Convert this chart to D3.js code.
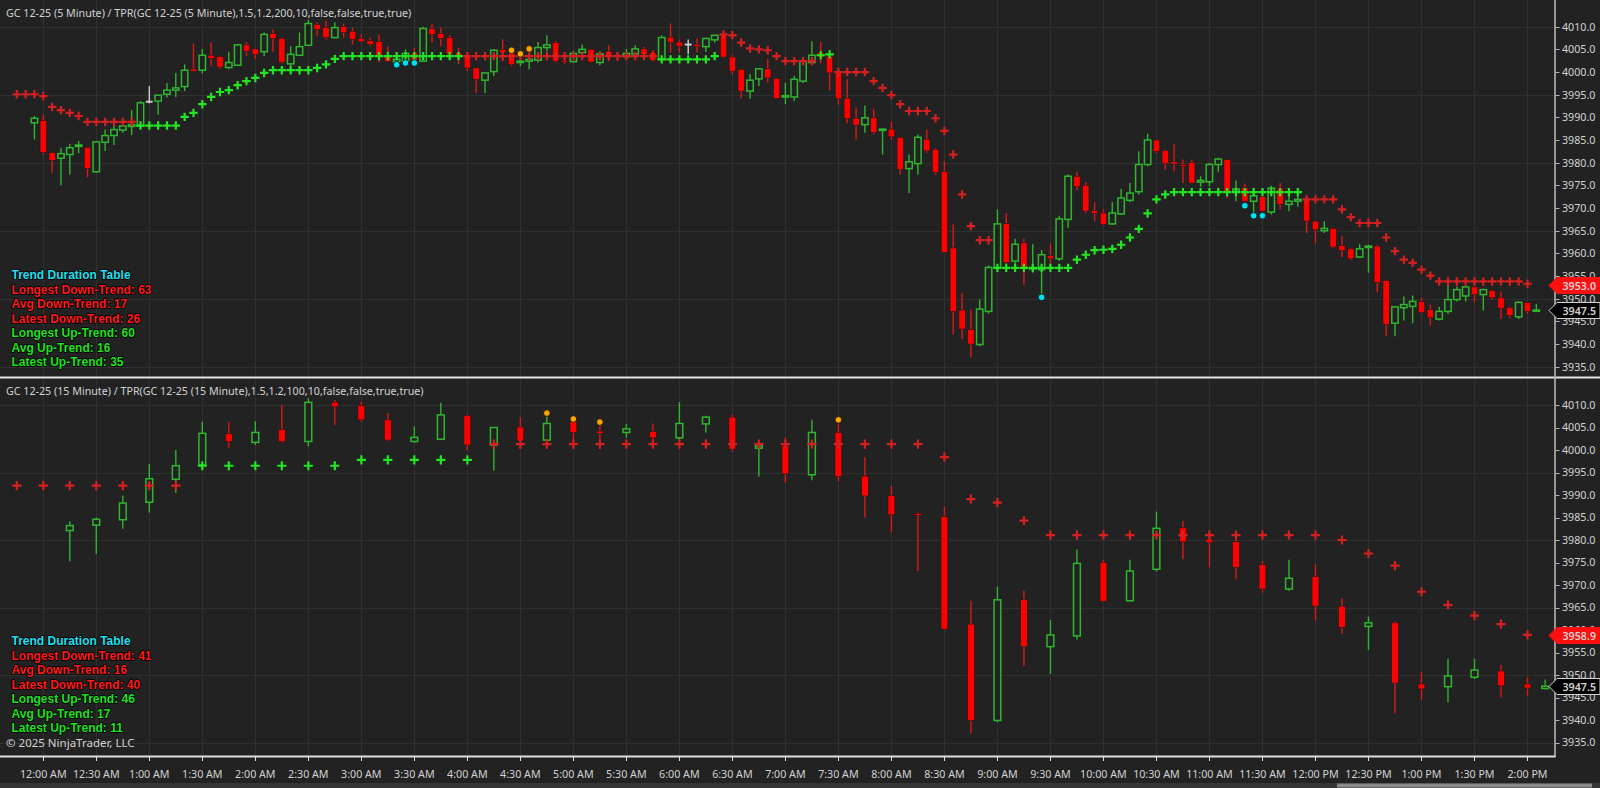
<!DOCTYPE html>
<html lang="en">
<head>
<meta charset="UTF-8">
<title>GC 12-25 TPR</title>
<script src="https://d3js.org/d3.v7.min.js"></script>
<style>
  html, body { margin: 0; padding: 0; background: #222222; overflow: hidden; }
  svg { display: block; }
  .lbl { font-family: "Noto Sans", "Open Sans", sans-serif; font-size: 10.7px; fill: #d2d2d2; }
  .tbl { font-family: "Liberation Sans", Arial, sans-serif; font-size: 12px; font-weight: bold;
         paint-order: stroke; stroke: #000; stroke-width: 1.6px; stroke-linejoin: round; }
</style>
</head>
<body>
<script>
// ---- 5 minute panel: bars [open, high, low, close], first bar 11:55 PM, 5 min apart
var topBars = [
  [3988.8,3990.3,3985.1,3989.8],[3989.3,3990.6,3981.8,3982.3],[3982.2,3982.4,3977.8,3980.5],[3981.0,3983.3,3975.0,3982.0],
  [3981.8,3984.2,3977.4,3983.3],[3983.6,3984.8,3982.1,3983.9],[3983.4,3983.5,3976.8,3978.7],[3978.0,3984.8,3977.8,3984.6],
  [3984.5,3987.3,3982.6,3986.0],[3986.0,3988.2,3983.9,3987.3],[3987.2,3988.8,3986.6,3988.1],[3988.0,3991.6,3986.1,3988.4],
  [3988.1,3993.6,3987.7,3993.2],[3993.6,3996.9,3993.1,3993.6],[3993.6,3995.0,3990.6,3994.9],[3995.1,3997.6,3994.4,3996.0],
  [3996.0,3999.8,3994.5,3996.5],[3996.8,4001.7,3995.8,4000.4],[4000.7,4006.3,4000.0,4000.2],[4000.4,4005.1,3999.7,4003.7],
  [4003.7,4006.5,4001.3,4003.0],[4003.4,4003.4,4000.6,4001.1],[4001.0,4004.5,4000.6,4002.1],[4001.5,4006.1,4001.3,4006.0],
  [4006.0,4006.6,4003.5,4004.6],[4005.1,4005.2,4002.8,4003.9],[4004.5,4008.7,4003.5,4008.3],[4008.5,4009.4,4004.5,4007.4],
  [4007.4,4007.6,4001.9,4002.1],[4001.8,4005.7,4001.3,4003.9],[4003.7,4008.7,4003.5,4005.6],[4005.9,4011.5,4005.8,4010.7],
  [4010.5,4010.9,4007.9,4009.4],[4009.8,4011.3,4007.2,4007.6],[4007.6,4010.9,4007.4,4009.8],[4010.0,4010.7,4007.6,4008.7],
  [4009.0,4009.8,4006.1,4007.2],[4007.4,4008.3,4006.5,4006.7],[4006.9,4007.6,4005.7,4006.1],[4006.7,4008.3,4002.2,4003.5],
  [4003.5,4005.7,4002.2,4002.3],[4002.3,4003.2,4002.1,4002.8],[4002.4,4005.0,4002.1,4004.1],[4004.3,4005.4,4001.7,4002.4],
  [4002.4,4010.0,4002.2,4009.6],[4009.6,4010.7,4006.5,4008.3],[4008.5,4009.8,4005.7,4007.4],[4007.6,4008.1,4003.2,4003.9],
  [4004.3,4005.4,4001.7,4003.5],[4003.9,4003.9,4000.2,4000.9],[4000.9,4000.9,3995.4,3998.4],[3998.2,3999.9,3995.4,3999.8],
  [4000.1,4005.0,3999.1,4004.8],[4005.0,4007.2,4002.4,4004.3],[4004.3,4004.3,4001.3,4001.7],[4002.1,4003.2,4001.3,4002.4],
  [4002.4,4003.2,4000.6,4002.8],[4002.6,4006.6,4002.1,4005.4],[4005.4,4008.1,4004.6,4006.0],[4006.5,4006.8,4002.1,4002.4],
  [4002.6,4004.3,4001.7,4002.2],[4002.3,4004.6,4002.1,4004.1],[4004.3,4006.1,4003.5,4005.0],[4005.0,4005.0,4002.1,4002.2],
  [4002.1,4004.6,4001.5,4004.0],[4004.6,4005.9,4002.4,4003.5],[4003.7,4004.3,4002.4,4003.2],[4003.4,4005.1,4002.8,4004.1],
  [4004.0,4005.9,4003.2,4005.1],[4005.1,4005.5,4002.8,4003.9],[4004.3,4004.8,4002.4,4002.6],[4002.8,4008.1,4002.1,4007.6],
  [4007.7,4010.7,4004.3,4006.5],[4006.6,4007.2,4004.3,4005.7],[4006.2,4007.2,4003.9,4006.2],[4006.1,4007.4,4004.3,4005.6],
  [4005.6,4007.4,4004.4,4007.4],[4007.1,4008.1,4006.5,4008.1],[4008.3,4008.8,4003.2,4003.3],[4003.3,4003.7,3999.5,4000.2],
  [4000.6,4000.6,3994.2,3995.8],[3995.8,3999.5,3994.1,3998.2],[3998.5,4000.9,3996.9,4000.7],[4000.7,4002.9,3997.7,3998.7],
  [3998.6,3998.6,3994.1,3994.2],[3994.5,3997.6,3992.9,3994.8],[3994.5,3999.1,3993.6,3998.4],[3998.0,4002.8,3997.6,4002.4],
  [4002.1,4006.8,4001.7,4003.7],[4004.3,4006.6,4001.9,4003.3],[4003.5,4003.9,3996.0,3999.8],[4000.2,4000.6,3992.8,3994.1],
  [3994.2,3998.4,3988.7,3989.7],[3989.8,3992.2,3985.1,3988.3],[3988.4,3992.6,3986.6,3989.9],[3989.9,3991.9,3986.2,3986.7],
  [3987.2,3987.6,3981.8,3987.4],[3987.4,3989.0,3985.0,3985.7],[3985.6,3985.6,3977.4,3978.5],[3978.7,3981.8,3973.3,3980.2],
  [3979.8,3986.2,3977.4,3985.6],[3985.2,3987.3,3982.2,3982.6],[3982.9,3983.2,3977.4,3977.9],[3978.1,3980.3,3960.2,3960.2],
  [3961.2,3966.4,3942.1,3947.2],[3947.5,3951.3,3941.1,3943.3],[3943.2,3947.6,3937.1,3940.0],[3939.9,3949.8,3939.5,3947.7],
  [3947.2,3957.3,3946.7,3956.9],[3956.8,3969.7,3956.4,3966.5],[3966.6,3968.9,3957.7,3958.0],[3958.3,3963.2,3956.1,3962.0],
  [3962.3,3963.2,3953.1,3956.4],[3956.7,3962.0,3955.7,3956.8],[3956.4,3960.7,3950.4,3959.7],[3959.5,3962.2,3956.1,3958.8],
  [3958.8,3968.3,3958.3,3967.6],[3967.5,3977.4,3965.6,3977.0],[3977.0,3977.9,3973.9,3974.7],[3975.0,3975.7,3968.9,3969.3],
  [3969.4,3971.3,3967.1,3968.8],[3968.9,3969.7,3966.1,3966.4],[3966.5,3971.3,3966.3,3968.9],[3968.7,3974.2,3968.5,3972.2],
  [3971.7,3975.5,3971.3,3973.3],[3973.6,3982.5,3973.0,3979.6],[3979.6,3986.4,3979.2,3985.0],[3985.0,3985.1,3982.0,3982.5],
  [3982.7,3982.9,3978.4,3979.8],[3980.2,3984.2,3978.1,3979.7],[3979.6,3980.7,3975.5,3979.2],[3980.1,3980.7,3975.4,3975.5],
  [3975.7,3977.0,3974.7,3976.1],[3975.8,3980.0,3974.8,3979.6],[3979.6,3981.1,3977.9,3980.8],[3980.7,3980.7,3972.2,3973.7],
  [3973.7,3976.1,3971.5,3974.2],[3974.5,3975.4,3970.4,3971.5],[3971.5,3974.2,3968.2,3972.7],[3972.5,3972.5,3969.1,3969.3],
  [3969.1,3974.9,3968.6,3974.4],[3974.4,3975.5,3969.7,3970.8],[3970.8,3974.1,3969.3,3971.5],[3971.5,3974.1,3970.3,3971.9],
  [3972.0,3972.2,3964.5,3967.1],[3967.1,3967.1,3962.2,3965.2],[3965.0,3967.1,3964.5,3965.5],[3965.5,3965.5,3961.2,3961.4],
  [3961.7,3963.8,3959.2,3960.6],[3961.0,3961.2,3958.5,3958.8],[3959.2,3962.1,3959.0,3961.0],[3961.3,3961.9,3955.7,3961.6],
  [3961.6,3961.9,3951.4,3953.6],[3954.0,3954.2,3941.7,3944.3],[3944.6,3948.3,3941.7,3948.2],[3948.0,3950.5,3945.2,3948.7],
  [3948.3,3950.7,3944.6,3949.4],[3949.4,3950.2,3946.7,3947.0],[3947.6,3948.7,3944.1,3945.8],[3945.5,3948.2,3945.2,3947.2],
  [3947.2,3953.1,3946.7,3949.8],[3949.8,3952.7,3949.4,3952.0],[3950.6,3952.9,3949.4,3952.6],[3952.6,3952.7,3949.2,3950.9],
  [3950.9,3952.2,3947.4,3952.0],[3951.8,3952.0,3949.9,3950.2],[3950.2,3951.6,3945.5,3947.9],[3948.0,3948.3,3945.7,3946.3],
  [3946.0,3949.4,3945.5,3949.2],[3949.2,3949.2,3946.7,3947.2],[3947.3,3948.9,3947.0,3947.5]
];
var topStart = -5, topStep = 5;   // minutes from 12:00 AM

// TPR stop line (crosses), starts two bars before the first candle
var topStop = [
  3995.1,3995.1,3995.1,3994.7,3992.3,3991.6,3991.0,3990.3,3989.0,3989.0,
  3989.0,3989.0,3989.0,3989.0,3988.2,3988.2,3988.2,3988.2,3988.2,3990.1,
  3991.0,3992.9,3994.5,3995.6,3996.0,3997.1,3998.0,3998.7,3999.8,4000.4,
  4000.4,4000.4,4000.4,4000.4,4000.9,4001.7,4002.9,4003.5,4003.5,4003.5,
  4003.5,4003.5,4003.5,4003.5,4003.5,4003.5,4003.5,4003.5,4003.5,4003.5,
  4003.5,4003.5,4003.5,4003.5,4003.5,4003.5,4003.5,4003.5,4003.5,4003.5,
  4003.5,4003.5,4003.5,4003.5,4003.5,4003.5,4003.5,4003.5,4003.5,4003.5,
  4003.5,4003.5,4003.5,4002.8,4002.8,4002.8,4002.8,4002.8,4002.8,4003.5,
  4008.3,4008.1,4006.5,4005.2,4005.0,4004.8,4003.5,4002.4,4002.4,4002.4,
  4002.4,4003.7,4003.9,4000.0,4000.0,4000.0,4000.0,3998.0,3996.5,3994.9,
  3992.9,3991.4,3991.4,3991.4,3989.8,3987.0,3981.8,3973.0,3966.0,3962.9,
  3962.9,3956.8,3956.8,3956.8,3956.8,3956.8,3956.8,3956.8,3956.8,3956.8,
  3958.6,3959.7,3960.7,3960.8,3961.0,3961.9,3963.5,3965.4,3968.8,3971.9,
  3973.0,3973.5,3973.5,3973.5,3973.5,3973.5,3973.5,3973.5,3973.5,3973.5,
  3973.5,3973.5,3973.5,3973.5,3973.5,3973.5,3971.9,3971.9,3971.9,3971.9,
  3969.7,3968.0,3966.7,3966.7,3966.7,3963.5,3960.5,3958.6,3957.9,3956.4,
  3955.1,3953.8,3953.8,3953.8,3953.8,3953.8,3953.8,3953.8,3953.8,3953.8,
  3953.8,3953.3,null
];
var topStopSide = ("ddddd ddddd dddd" +
  "uuuuu uuuuu uuuuu uuuuu uuuuu uuuuu uuuuu uu" +
  "ddddd ddddd ddddd ddddd dd" + "uuuuu uu" + "ddddd ddddd d" + "uu" +
  "ddddd ddddd ddddd ddd" +
  "uuuuu uuuuu uuuuu uuuuu uuuuu uuuuu uuuuu" +
  "ddddd ddddd ddddd ddddd ddddd dd").replace(/ /g, "").split("");
var topStopStart = -15;

// signal dots [minute, price]
var topCyan = [[200,4001.6],[205,4002.0],[210,4002.0],[565,3950.3],[680,3970.5],[685,3968.3],[690,3968.3]];
var topOrange = [[265,4004.8],[270,4004.0],[275,4005.1]];
var topMarks = [[3953.0,"stop"],[3947.5,"last"]];
var topTable = ["Trend Duration Table","Longest Down-Trend: 63","Avg Down-Trend: 17","Latest Down-Trend: 26",
                "Longest Up-Trend: 60","Avg Up-Trend: 16","Latest Up-Trend: 35"];

// ---- 15 minute panel: [minute, open, high, low, close]
var botBars = [
  [15,3982.1,3984.1,3975.3,3983.2],[30,3983.3,3985.0,3976.9,3984.6],[45,3984.5,3989.9,3982.5,3988.2],
  [60,3988.4,3996.9,3986.1,3993.6],[75,3993.5,4000.0,3990.5,3996.5],[90,3996.7,4006.3,3995.6,4003.7],
  [105,4003.6,4006.3,4000.5,4001.9],[120,4001.7,4006.4,4001.1,4003.9],[135,4004.5,4010.0,4001.6,4001.9],
  [150,4001.9,4011.5,4000.8,4010.6],[165,4010.6,4011.1,4005.6,4009.6],[180,4009.9,4010.7,4006.3,4006.7],
  [195,4006.7,4008.2,4001.9,4002.2],[210,4001.9,4005.2,4001.6,4002.8],[225,4002.4,4010.5,4002.2,4007.8],
  [240,4007.6,4008.0,4000.0,4001.1],[255,4001.1,4005.0,3995.4,4005.0],[270,4005.1,4007.3,4000.2,4002.0],
  [285,4002.2,4007.8,4001.1,4005.9],[300,4006.3,4006.8,4000.2,4003.9],[315,4004.2,4005.9,4000.2,4003.7],
  [330,4003.9,4005.8,4002.8,4004.7],[345,4004.1,4005.9,4002.2,4002.7],[360,4002.7,4010.6,4002.2,4005.9],
  [375,4005.8,4007.6,4003.9,4007.3],[390,4007.3,4007.9,3999.6,4000.2],[405,4000.4,4001.9,3994.1,4000.9],
  [420,4001.0,4002.8,3992.7,3994.7],[435,3994.5,4006.7,3993.3,4003.9],[450,4003.9,4006.3,3993.0,3994.1],
  [465,3994.2,3998.4,3985.0,3989.8],[480,3989.9,3992.0,3981.7,3985.6],[495,3985.9,3986.1,3973.1,3985.5],
  [510,3985.2,3987.4,3960.0,3960.2],[525,3961.3,3966.5,3937.0,3939.9],[540,3939.9,3969.6,3939.5,3966.7],
  [555,3966.7,3968.7,3952.0,3956.3],[570,3956.3,3962.2,3950.2,3958.9],[585,3958.7,3977.9,3957.9,3974.8],
  [600,3975.0,3975.6,3966.3,3966.4],[615,3966.5,3975.6,3966.4,3973.1],[630,3973.5,3986.3,3973.0,3982.6],
  [645,3982.7,3984.2,3975.7,3979.6],[660,3980.2,3981.9,3973.9,3979.4],[675,3979.6,3981.9,3971.3,3973.9],
  [690,3974.5,3975.3,3968.3,3969.1],[705,3969.1,3975.6,3968.7,3971.5],[720,3971.9,3974.6,3962.1,3965.3],
  [735,3965.3,3967.0,3959.1,3960.6],[750,3960.8,3963.0,3955.6,3961.6],[765,3961.6,3961.9,3941.5,3948.2],
  [780,3948.0,3950.7,3944.5,3946.9],[795,3947.4,3953.6,3943.9,3949.8],[810,3949.5,3953.6,3949.1,3951.1],
  [825,3950.9,3952.2,3945.0,3947.6],[840,3948.0,3949.5,3945.3,3947.1],[850,3947.0,3949.0,3946.8,3947.5]
];
var botStop = [
  3992.1,3992.1,3992.1,3992.1,3992.1,3992.1,3992.1,3996.5,3996.5,3996.5,
  3996.5,3996.5,3996.5,3997.8,3997.8,3997.8,3997.8,3997.8,4001.3,4001.3,
  4001.3,4001.3,4001.3,4001.3,4001.3,4001.3,4001.3,4001.3,4001.3,4001.3,
  4001.3,4001.3,4001.3,4001.3,4001.3,3998.4,3989.1,3988.3,3984.3,3981.1,
  3981.1,3981.1,3981.1,3981.1,3981.1,3981.1,3981.1,3981.1,3981.1,3981.1,
  3980.0,3977.0,3974.3,3968.5,3965.6,3963.2,3961.3,3958.9,null
];
var botStopSide = ("ddddd dd" + "uuuuu uuuuu u" +
  "ddddd ddddd ddddd ddddd ddddd ddddd ddddd ddddd d").replace(/ /g, "").split("");
var botStopStart = -15, botStep = 15;
var botOrange = [[285,4008.2],[300,4006.9],[315,4006.2],[450,4006.7]];
var botMarks = [[3958.9,"stop"],[3947.5,"last"]];
var botTable = ["Trend Duration Table","Longest Down-Trend: 41","Avg Down-Trend: 16","Latest Down-Trend: 40",
                "Longest Up-Trend: 46","Avg Up-Trend: 17","Latest Up-Trend: 11"];

// ---- axes
var priceTicks = [4010,4005,4000,3995,3990,3985,3980,3975,3970,3965,3960,3955,3950,3945,3940,3935];
var gridPrices = [4010,3995,3980,3965,3950,3935];
var timeTicks = [0,30,60,90,120,150,180,210,240,270,300,330,360,390,420,450,480,510,540,570,600,630,660,690,720,750,780,810,840];
var timeLabels = ["12:00 AM","12:30 AM","1:00 AM","1:30 AM","2:00 AM","2:30 AM","3:00 AM","3:30 AM","4:00 AM","4:30 AM",
  "5:00 AM","5:30 AM","6:00 AM","6:30 AM","7:00 AM","7:30 AM","8:00 AM","8:30 AM","9:00 AM","9:30 AM","10:00 AM",
  "10:30 AM","11:00 AM","11:30 AM","12:00 PM","12:30 PM","1:00 PM","1:30 PM","2:00 PM"];

var W = 1600, H = 788, axisX = 1554.5;
var BG = "#222222", GRID = "#303030";
var UP = "#2fb52f", DOWN = "#ff0000", DOWNWICK = "#d81a1a", DOJI = "#cfcfcf";
var STOPUP = "#22e622", STOPDN = "#d42020";

var x = d3.scaleLinear().domain([-24.5, 855]).range([0, 1554]);
var panels = [
  { y0: 0, y1: 376.5, y: d3.scaleLinear().domain([3935, 4010]).range([366.7, 26.7]) },
  { y0: 378.5, y1: 756, y: d3.scaleLinear().domain([3935, 4010]).range([742.5, 405]) }
];

var svg = d3.select("body").append("svg").attr("width", W).attr("height", H);
svg.append("rect").attr("width", W).attr("height", H).attr("fill", BG);

var defs = svg.append("defs");
panels.forEach(function(p, k) {
  defs.append("clipPath").attr("id", "clip" + k)
    .append("rect").attr("x", 0).attr("y", p.y0).attr("width", axisX).attr("height", p.y1 - p.y0);
});

// grid
panels.forEach(function(p) {
  var g = svg.append("g");
  g.selectAll("line.v").data(timeTicks).enter().append("line")
    .attr("x1", function(d) { return Math.round(x(d)) + 0.5; })
    .attr("x2", function(d) { return Math.round(x(d)) + 0.5; })
    .attr("y1", p.y0).attr("y2", p.y1)
    .attr("stroke", GRID).attr("stroke-width", 1);
  g.selectAll("line.h").data(gridPrices).enter().append("line")
    .attr("x1", 0).attr("x2", axisX)
    .attr("y1", function(d) { return Math.round(p.y(d)) + 0.5; })
    .attr("y2", function(d) { return Math.round(p.y(d)) + 0.5; })
    .attr("stroke", GRID).attr("stroke-width", 1);
});

function drawCandles(g, bars, y, bw) {
  var c = g.selectAll("g.bar").data(bars).enter().append("g").attr("class", "bar");
  function col(d) { return d.c > d.o ? UP : (d.c < d.o ? DOWNWICK : DOJI); }
  c.append("line")
    .attr("x1", function(d) { return x(d.t); }).attr("x2", function(d) { return x(d.t); })
    .attr("y1", function(d) { return y(d.h); }).attr("y2", function(d) { return y(d.l); })
    .attr("stroke", col).attr("stroke-width", 1.4);
  c.append("rect")
    .attr("x", function(d) { return x(d.t) - bw / 2; })
    .attr("width", bw)
    .attr("y", function(d) { return y(Math.max(d.o, d.c)); })
    .attr("height", function(d) { return Math.max(1.2, Math.abs(y(d.o) - y(d.c))); })
    .attr("fill", function(d) { return d.c > d.o ? BG : (d.c < d.o ? DOWN : DOJI); })
    .attr("stroke", function(d) { return d.c > d.o ? UP : (d.c < d.o ? "#1a1a1a" : DOJI); })
    .attr("stroke-width", function(d) { return d.c > d.o ? 1.5 : 0.6; });
}

function drawStops(g, vals, sides, start, step, y, half) {
  var pts = vals.map(function(v, k) { return { t: start + step * k, v: v, s: sides[k] }; })
    .filter(function(d) { return d.v !== null; });
  var s = g.selectAll("g.stop").data(pts).enter().append("g")
    .attr("transform", function(d) { return "translate(" + x(d.t) + "," + y(d.v) + ")"; });
  s.append("path")
    .attr("d", "M" + (-half) + ",0H" + half + "M0," + (-half) + "V" + half)
    .attr("stroke", function(d) { return d.s === "u" ? STOPUP : STOPDN; })
    .attr("stroke-width", 2.2).attr("fill", "none");
}

function drawDots(g, dots, y, color) {
  g.selectAll(null).data(dots).enter().append("circle")
    .attr("cx", function(d) { return x(d[0]); }).attr("cy", function(d) { return y(d[1]); })
    .attr("r", 3.3).attr("fill", color).attr("stroke", "#111").attr("stroke-width", 0.8);
}

// top panel
var gTop = svg.append("g").attr("clip-path", "url(#clip0)");
var topData = topBars.map(function(b, i) { return { t: topStart + topStep * i, o: b[0], h: b[1], l: b[2], c: b[3] }; });
drawCandles(gTop, topData, panels[0].y, 6.4);
drawStops(gTop, topStop, topStopSide, topStopStart, topStep, panels[0].y, 4.2);
drawDots(gTop, topCyan, panels[0].y, "#00e2f2");
drawDots(gTop, topOrange, panels[0].y, "#f7a300");

// bottom panel
var gBot = svg.append("g").attr("clip-path", "url(#clip1)");
var botData = botBars.map(function(b) { return { t: b[0], o: b[1], h: b[2], l: b[3], c: b[4] }; });
drawCandles(gBot, botData, panels[1].y, 6.8);
drawStops(gBot, botStop, botStopSide, botStopStart, botStep, panels[1].y, 4.6);
drawDots(gBot, botOrange, panels[1].y, "#f7a300");

// titles
svg.append("text").attr("class", "lbl").attr("x", 6).attr("y", 16.5)
  .text("GC 12-25 (5 Minute) / TPR(GC 12-25 (5 Minute),1.5,1.2,200,10,false,false,true,true)");
svg.append("text").attr("class", "lbl").attr("x", 6).attr("y", 394.5)
  .text("GC 12-25 (15 Minute) / TPR(GC 12-25 (15 Minute),1.5,1.2,100,10,false,false,true,true)");

// trend tables
function drawTable(lines, top) {
  var colors = ["#1ee0f2", "#ff1a1a", "#ff1a1a", "#ff1a1a", "#1fe21f", "#1fe21f", "#1fe21f"];
  svg.selectAll(null).data(lines).enter().append("text").attr("class", "tbl")
    .attr("x", 11.5).attr("y", function(d, i) { return top + i * 14.5 + 4.3; })
    .attr("fill", function(d, i) { return colors[i]; })
    .text(function(d) { return d; });
}
drawTable(topTable, 275);
drawTable(botTable, 641);
svg.append("text").attr("class", "lbl").attr("x", 6).attr("y", 747.3)
  .style("font-size", "11.5px").attr("fill", "#c9c9c9").text("\u00a9 2025 NinjaTrader, LLC");

// panel separator
svg.append("rect").attr("x", 0).attr("y", 376.5).attr("width", W).attr("height", 2).attr("fill", "#e4e4e4");

// price axis
svg.append("line").attr("x1", axisX + 0.5).attr("x2", axisX + 0.5).attr("y1", 0).attr("y2", 757)
  .attr("stroke", "#b5b5b5").attr("stroke-width", 1.6);
panels.forEach(function(p) {
  var ticks = priceTicks.filter(function(v) { return p.y(v) > p.y0 + 8 && p.y(v) < p.y1 - 4; });
  svg.selectAll(null).data(ticks).enter().append("line")
    .attr("x1", axisX + 1).attr("x2", axisX + 5)
    .attr("y1", function(d) { return Math.round(p.y(d)) + 0.5; })
    .attr("y2", function(d) { return Math.round(p.y(d)) + 0.5; })
    .attr("stroke", "#b5b5b5").attr("stroke-width", 1);
  svg.selectAll(null).data(ticks).enter().append("text").attr("class", "lbl")
    .attr("x", 1562).attr("y", function(d) { return p.y(d) + 3.8; })
    .text(function(d) { return d.toFixed(1); });
});

// price markers
function drawMark(y, v, kind) {
  var yy = Math.round(y(v)) + 0.5, h = 8;
  svg.append("path")
    .attr("d", "M1549," + yy + "L1557," + (yy - h) + "H1600V" + (yy + h) + "H1557Z")
    .attr("fill", kind === "stop" ? "#ff1010" : "#000")
    .attr("stroke", kind === "stop" ? "#ff1010" : "#cfcfcf").attr("stroke-width", 1);
  svg.append("text").attr("class", "lbl").attr("x", 1562.5).attr("y", yy + 4)
    .attr("fill", "#ffffff").style("font-weight", "600").text(v.toFixed(1));
}
topMarks.forEach(function(m) { drawMark(panels[0].y, m[0], m[1]); });
botMarks.forEach(function(m) { drawMark(panels[1].y, m[0], m[1]); });

// time axis
svg.append("line").attr("x1", 0).attr("x2", axisX + 1).attr("y1", 756.5).attr("y2", 756.5)
  .attr("stroke", "#dedede").attr("stroke-width", 1.8);
svg.selectAll(null).data(timeTicks).enter().append("line")
  .attr("x1", function(d) { return Math.round(x(d)) + 0.5; })
  .attr("x2", function(d) { return Math.round(x(d)) + 0.5; })
  .attr("y1", 757).attr("y2", 761)
  .attr("stroke", "#dedede").attr("stroke-width", 1);
svg.selectAll(null).data(timeTicks).enter().append("text").attr("class", "lbl")
  .attr("x", function(d) { return x(d); }).attr("y", 777.5).attr("text-anchor", "middle")
  .text(function(d, i) { return timeLabels[i]; });

// scroll bar strip
svg.append("rect").attr("x", 0).attr("y", 783).attr("width", W).attr("height", 5).attr("fill", "#353535");
svg.append("rect").attr("x", 1337).attr("y", 783.5).attr("width", 255).attr("height", 4).attr("fill", "#8a8a8a");
</script>
</body>
</html>
